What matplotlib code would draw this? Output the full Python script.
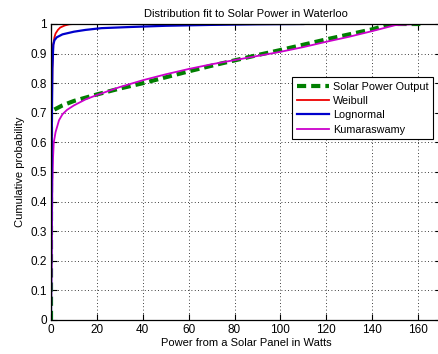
import matplotlib
matplotlib.use("Agg")
import matplotlib.pyplot as plt

plt.rcParams['font.family'] = ['Liberation Sans', 'DejaVu Sans']
plt.rcParams['font.size'] = 8

# Empirical CDF (Solar Power Output)
emp_x = [0, 0, 5, 10, 20, 30, 40, 50, 60, 70, 80, 90, 100, 110, 120, 130, 140, 148, 161]
emp_y = [0, 0.705, 0.725, 0.74, 0.762, 0.782, 0.80, 0.82, 0.84, 0.859, 0.877, 0.895, 0.912, 0.93, 0.948, 0.965, 0.982, 1.0, 1.0]

weib_x = [0, 0.1, 0.3, 0.6, 1, 1.5, 2, 3, 4, 6, 8, 10]
weib_y = [0, 0.3, 0.6, 0.85, 0.93, 0.955, 0.968, 0.98, 0.988, 0.995, 0.999, 1.0]

logn_x = [0, 0.1, 0.3, 0.6, 1, 1.5, 2.5, 5, 10, 15, 22, 35, 50, 70, 90, 110]
logn_y = [0, 0.3, 0.6, 0.85, 0.93, 0.945, 0.955, 0.965, 0.974, 0.98, 0.986, 0.99, 0.994, 0.997, 0.999, 1.0]

kuma_x = [0, 0.3, 0.6, 0.9, 1.2, 2, 3.5, 5, 7, 10, 15, 20, 30, 40, 50, 60, 70, 80, 90, 100, 110, 120, 130, 140, 150, 160]
kuma_y = [0, 0.2, 0.45, 0.55, 0.6, 0.635, 0.675, 0.695, 0.71, 0.725, 0.745, 0.76, 0.787, 0.81, 0.83, 0.848, 0.864, 0.878, 0.892, 0.906, 0.922, 0.94, 0.957, 0.976, 0.996, 1.0]

xticks = [0, 20, 40, 60, 80, 100, 120, 140, 160]
yticks = [0, 0.1, 0.2, 0.3, 0.4, 0.5, 0.6, 0.7, 0.8, 0.9, 1]

fig = plt.figure(figsize=(4.39, 3.54), dpi=100)
ax = fig.add_axes([51/439, 1-320/354, 390/439, 296/354])

ax.plot(emp_x, emp_y, color='#007f00', lw=3, ls=(0, (2.2, 1.2)), label='Solar Power Output', zorder=3)
ax.plot(weib_x, weib_y, color='#ee0000', lw=1.3, label='Weibull', zorder=4)
ax.plot(logn_x, logn_y, color='#0000cc', lw=1.6, label='Lognormal', zorder=5)
ax.plot(kuma_x, kuma_y, color='#cc00cc', lw=1.3, label='Kumaraswamy', zorder=4)

ax.set_xlim(0, 170)
ax.set_ylim(0, 1)
ax.set_xticks(xticks)
ax.set_xticklabels([str(t) for t in xticks])
ax.set_yticks(yticks)
ax.set_yticklabels(['0', '0.1', '0.2', '0.3', '0.4', '0.5', '0.6', '0.7', '0.8', '0.9', '1'])
ax.tick_params(direction='in', length=4, width=0.8, top=True, right=True, labelsize=8.5, pad=3)
ax.grid(True, color='black', ls=(0, (1, 3)), lw=0.6)
for s in ax.spines.values():
    s.set_linewidth(0.9)
    s.set_zorder(6)

ax.set_title('Distribution fit to Solar Power in Waterloo', fontsize=8, pad=5)
ax.set_xlabel('Power from a Solar Panel in Watts', fontsize=8, labelpad=1)
ax.set_ylabel('Cumulative probability', fontsize=8, labelpad=4)

leg = ax.legend(loc='upper right', bbox_to_anchor=(0.98, 0.822), fontsize=7.8,
                frameon=True, fancybox=False, edgecolor='black', framealpha=1,
                handlelength=3.0, handletextpad=0.3, borderpad=0.45, labelspacing=0.4,
                borderaxespad=0)
leg.get_frame().set_linewidth(0.8)
leg.set_zorder(7)

fig.savefig('out.png', dpi=100)
